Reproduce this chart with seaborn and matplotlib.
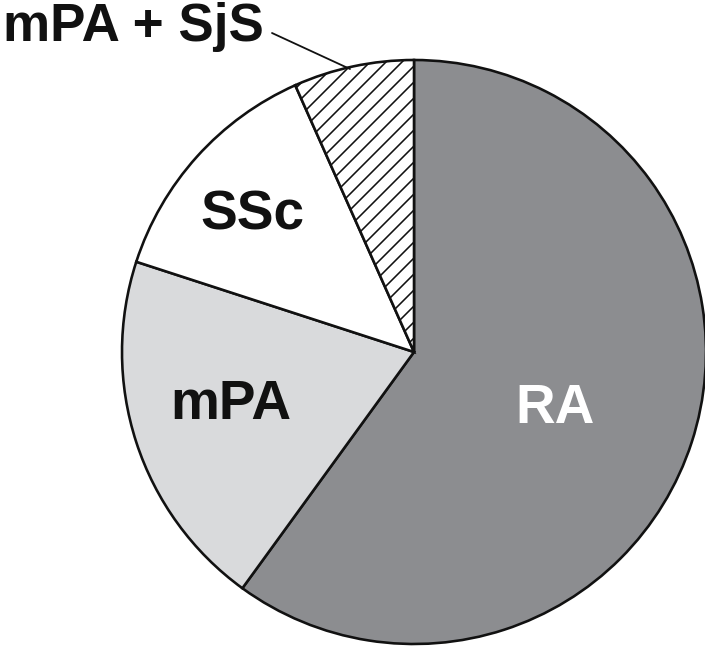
import matplotlib
matplotlib.use("Agg")
import matplotlib.pyplot as plt
import seaborn as sns

categories = ["RA", "mPA", "SSc", "mPA + SjS"]
values = [27, 9, 6, 3]
colors = ["#8c8d90", "#d9dadc", "#ffffff", "#ffffff"]
hatches = [None, None, None, "///"]

sns.set_theme(style="white")
plt.rcParams["font.family"] = ["Liberation Sans", "DejaVu Sans"]
plt.rcParams["hatch.linewidth"] = 0.8
plt.rcParams["hatch.color"] = "#222222"

DPI = 144
W, H = 705, 646
fig = plt.figure(figsize=(W / DPI, H / DPI), dpi=DPI)
ax = fig.add_axes([0, 0, 1, 1])

cx, cy, R = 414, 352, 292
wedges, _ = ax.pie(values, colors=colors, startangle=90, counterclock=False,
                   radius=1.0,
                   wedgeprops=dict(edgecolor="#111111", linewidth=1.3))
for w, h in zip(wedges, hatches):
    if h:
        w.set_hatch(h)

ax.set_aspect("auto")
ax.set_xlim(-cx / R, (W - cx) / R)
ax.set_ylim(-(H - cy) / R, cy / R)
ax.axis("off")

def px(x, y):
    return ((x - cx) / R, (cy - y) / R)

fs = 27.5
ax.text(*px(555, 409), "RA", color="white", fontsize=fs, fontweight="bold",
        ha="center", va="center")
ax.text(*px(231, 405), "mPA", color="#111111", fontsize=fs, fontweight="bold",
        ha="center", va="center")
ax.text(*px(252, 215), "SSc", color="#111111", fontsize=fs, fontweight="bold",
        ha="center", va="center")
ax.text(*px(3, 41), "mPA + SjS", color="#111111", fontsize=26.5, fontweight="bold",
        ha="left", va="baseline")
x0, y0 = px(272, 33)
x1, y1 = px(350, 69)
ax.plot([x0, x1], [y0, y1], color="#111111", linewidth=0.9)

fig.savefig("out.png", dpi=DPI, facecolor="white")
